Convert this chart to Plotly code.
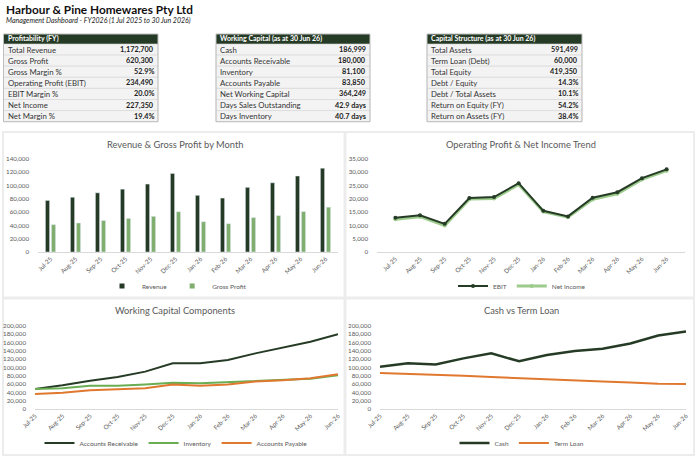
import plotly.graph_objects as go

W, H = 700, 460

months = ["Jul-25", "Aug-25", "Sep-25", "Oct-25", "Nov-25", "Dec-25",
          "Jan-26", "Feb-26", "Mar-26", "Apr-26", "May-26", "Jun-26"]
revenue = [77600, 82400, 89100, 94600, 102300, 118200, 85300, 81200, 97300, 104200, 114400, 126100]
gross_profit = [41200, 43700, 47400, 50600, 53700, 60600, 45600, 42600, 51800, 54800, 60800, 67500]
ebit = [12900, 13800, 10600, 20300, 20700, 25900, 15500, 13400, 20400, 22500, 27800, 31100]
net_income = [12300, 13300, 10000, 19900, 20100, 25400, 15200, 13100, 19800, 21900, 27300, 30600]
accounts_receivable = [48000, 57000, 68000, 77000, 90000, 110000, 110000, 118000, 134000, 148000, 162000, 180000]
inventory = [48000, 50000, 56000, 56000, 59000, 63000, 62000, 65000, 68000, 70000, 73000, 81100]
accounts_payable = [36000, 39000, 45000, 47000, 50000, 59000, 56000, 59000, 66000, 69000, 74000, 83850]
cash = [102000, 110000, 107000, 122000, 134000, 115000, 130000, 140000, 145000, 158000, 177000, 186999]
term_loan = [87000, 85000, 82000, 80000, 77000, 74000, 72000, 69000, 66000, 64000, 61000, 60000]

prof_title = "Profitability (FY)"
prof_labels = ["Total Revenue", "Gross Profit", "Gross Margin %", "Operating Profit (EBIT)",
               "EBIT Margin %", "Net Income", "Net Margin %"]
prof_values = ["1,172,700", "620,300", "52.9%", "234,490", "20.0%", "227,350", "19.4%"]

wc_title = "Working Capital (as at 30 Jun 26)"
wc_labels = ["Cash", "Accounts Receivable", "Inventory", "Accounts Payable",
             "Net Working Capital", "Days Sales Outstanding", "Days Inventory"]
wc_values = ["186,999", "180,000", "81,100", "83,850", "364,249", "42.9 days", "40.7 days"]

cs_title = "Capital Structure (as at 30 Jun 26)"
cs_labels = ["Total Assets", "Term Loan (Debt)", "Total Equity", "Debt / Equity",
             "Debt / Total Assets", "Return on Equity (FY)", "Return on Assets (FY)"]
cs_values = ["591,499", "60,000", "419,350", "14.3%", "10.1%", "54.2%", "38.4%"]

DARK = "#263b26"
LIGHT = "#7fae6f"
NI_GREEN = "#9ccb8c"
INV_GREEN = "#6aad52"
ORANGE = "#e0782f"
GRAY_TXT = "#595959"
FONT = "Lato"


def px(x):
    return x / W


def py(y):
    return 1 - y / H


fig = go.Figure()
shapes = []
annotations = []

# ---- header text
annotations.append(dict(x=px(4), y=py(9), xref="paper", yref="paper", xanchor="left", yanchor="middle",
                        text="<b>Harbour & Pine Homewares Pty Ltd</b>", showarrow=False,
                        font=dict(family=FONT, size=11.8, color="#111111")))
annotations.append(dict(x=px(4), y=py(20.5), xref="paper", yref="paper", xanchor="left", yanchor="middle",
                        text="<i>Management Dashboard - FY2026 (1 Jul 2025 to 30 Jun 2026)</i>", showarrow=False,
                        font=dict(family=FONT, size=7, color="#222222")))


# ---- KPI tables
def table(x0, x1, title, labels, values):
    top = 34
    hh = 10
    rh = 11.1
    shapes.append(dict(type="rect", xref="paper", yref="paper", x0=px(x0), x1=px(x1), y0=py(top), y1=py(top + hh),
                       fillcolor=DARK, line=dict(width=0)))
    annotations.append(dict(x=px(x0 + 2), y=py(top + hh / 2), xref="paper", yref="paper", xanchor="left",
                            yanchor="middle", text="<b>" + title + "</b>", showarrow=False,
                            font=dict(family=FONT, size=7, color="white")))
    for i, (lab, val) in enumerate(zip(labels, values)):
        y0 = top + hh + i * rh
        shapes.append(dict(type="rect", xref="paper", yref="paper", x0=px(x0), x1=px(x1), y0=py(y0),
                           y1=py(y0 + rh), fillcolor="#f3f3f3", line=dict(width=0.6, color="#d4d4d4")))
        annotations.append(dict(x=px(x0 + 2), y=py(y0 + rh / 2), xref="paper", yref="paper", xanchor="left",
                                yanchor="middle", text=lab, showarrow=False,
                                font=dict(family=FONT, size=7.8, color="#333333")))
        annotations.append(dict(x=px(x1 - 2), y=py(y0 + rh / 2), xref="paper", yref="paper", xanchor="right",
                                yanchor="middle", text="<b>" + val + "</b>", showarrow=False,
                                font=dict(family=FONT, size=7.3, color="#222222")))
    shapes.append(dict(type="rect", xref="paper", yref="paper", x0=px(x0), x1=px(x1), y0=py(top),
                       y1=py(top + hh + 7 * rh), fillcolor="rgba(0,0,0,0)", line=dict(width=1, color="#bfbfbf")))


table(3.5, 158, prof_title, prof_labels, prof_values)
table(216, 370, wc_title, wc_labels, wc_values)
table(427, 582, cs_title, cs_labels, cs_values)

# ---- panel backgrounds
shapes.append(dict(type="rect", xref="paper", yref="paper", x0=px(2), x1=px(695), y0=py(131), y1=py(456),
                   fillcolor="#ececec", line=dict(width=0), layer="below"))
for (a, b, c, d) in [(4, 343.5, 133, 296.5), (346.5, 693, 133, 296.5), (4, 343.5, 299.5, 454), (346.5, 693, 299.5, 454)]:
    shapes.append(dict(type="rect", xref="paper", yref="paper", x0=px(a), x1=px(b), y0=py(c), y1=py(d),
                       fillcolor="white", line=dict(width=0), layer="below"))

# ---- chart titles
for (cx, cy, t) in [(175, 144, "Revenue & Gross Profit by Month"),
                    (521, 144, "Operating Profit & Net Income Trend"),
                    (175, 310, "Working Capital Components"),
                    (521, 310, "Cash vs Term Loan")]:
    annotations.append(dict(x=px(cx), y=py(cy), xref="paper", yref="paper", xanchor="center", yanchor="middle",
                            text=t, showarrow=False, font=dict(family=FONT, size=9.3, color=GRAY_TXT)))

# ---- traces
fig.add_trace(go.Bar(x=months, y=revenue, name="Revenue", marker_color=DARK, xaxis="x", yaxis="y",
                     showlegend=False))
fig.add_trace(go.Bar(x=months, y=gross_profit, name="Gross Profit", marker_color=LIGHT, xaxis="x", yaxis="y",
                     showlegend=False))
# compact square legend keys for the bar series
for nm, col in [("Revenue", DARK), ("Gross Profit", LIGHT)]:
    fig.add_trace(go.Scatter(x=[None], y=[None], name=nm, mode="markers",
                             marker=dict(symbol="square", size=5, color=col),
                             xaxis="x", yaxis="y", legend="legend"))

fig.add_trace(go.Scatter(x=months, y=net_income, name="Net Income", mode="lines+markers",
                         line=dict(color=NI_GREEN, width=3), marker=dict(size=4, color=NI_GREEN),
                         xaxis="x2", yaxis="y2", legend="legend2", legendrank=2))
fig.add_trace(go.Scatter(x=months, y=ebit, name="EBIT", mode="lines+markers",
                         line=dict(color=DARK, width=2), marker=dict(size=4, color=DARK),
                         xaxis="x2", yaxis="y2", legend="legend2", legendrank=1))

fig.add_trace(go.Scatter(x=months, y=accounts_receivable, name="Accounts Receivable", mode="lines",
                         line=dict(color=DARK, width=2), xaxis="x3", yaxis="y3", legend="legend3"))
fig.add_trace(go.Scatter(x=months, y=inventory, name="Inventory", mode="lines",
                         line=dict(color=INV_GREEN, width=2), xaxis="x3", yaxis="y3", legend="legend3"))
fig.add_trace(go.Scatter(x=months, y=accounts_payable, name="Accounts Payable", mode="lines",
                         line=dict(color=ORANGE, width=2), xaxis="x3", yaxis="y3", legend="legend3"))

fig.add_trace(go.Scatter(x=months, y=cash, name="Cash", mode="lines",
                         line=dict(color=DARK, width=2.5), xaxis="x4", yaxis="y4", legend="legend4"))
fig.add_trace(go.Scatter(x=months, y=term_loan, name="Term Loan", mode="lines",
                         line=dict(color=ORANGE, width=2), xaxis="x4", yaxis="y4", legend="legend4"))

tickfont = dict(family=FONT, size=6.2, color=GRAY_TXT)


def xax(x0, x1, anchor):
    return dict(domain=[px(x0), px(x1)], anchor=anchor, tickangle=-45, tickfont=tickfont,
                showline=True, linecolor="#d9d9d9", linewidth=1, showgrid=False, ticks="",
                fixedrange=True, type="category", automargin=False)


def yax(y_top, y_bot, rng, dt, anchor):
    return dict(domain=[py(y_bot), py(y_top)], anchor=anchor, range=rng, dtick=dt, tickformat=",",
                tickfont=tickfont, showgrid=False, zeroline=False, showline=False, ticks="",
                ticklabelstandoff=8, automargin=False)


def leg(cx, cy):
    return dict(x=px(cx), y=py(cy), xanchor="center", yanchor="middle", orientation="h",
                font=dict(family=FONT, size=6.5, color=GRAY_TXT), bgcolor="rgba(0,0,0,0)",
                itemwidth=30, tracegroupgap=0)


fig.update_layout(
    width=W, height=H, margin=dict(l=0, r=0, t=0, b=0, autoexpand=False),
    paper_bgcolor="white", plot_bgcolor="rgba(0,0,0,0)",
    barmode="group", bargap=0.52, bargroupgap=0.3,
    xaxis=xax(38, 338, "y"),
    yaxis=yax(159, 252, [0, 140000], 20000, "x"),
    xaxis2=xax(377, 685, "y2"),
    yaxis2=yax(159, 252, [0, 35000], 5000, "x2"),
    xaxis3=xax(35, 338, "y3"),
    yaxis3=yax(326, 409, [0, 200000], 20000, "x3"),
    xaxis4=xax(380, 686, "y4"),
    yaxis4=yax(326, 409, [0, 200000], 20000, "x4"),
    legend=leg(177, 286),
    legend2=leg(522, 286),
    legend3=leg(176, 443),
    legend4=leg(522, 443),
    shapes=shapes,
    annotations=annotations,
    showlegend=True,
)

fig.write_html("out.html")
